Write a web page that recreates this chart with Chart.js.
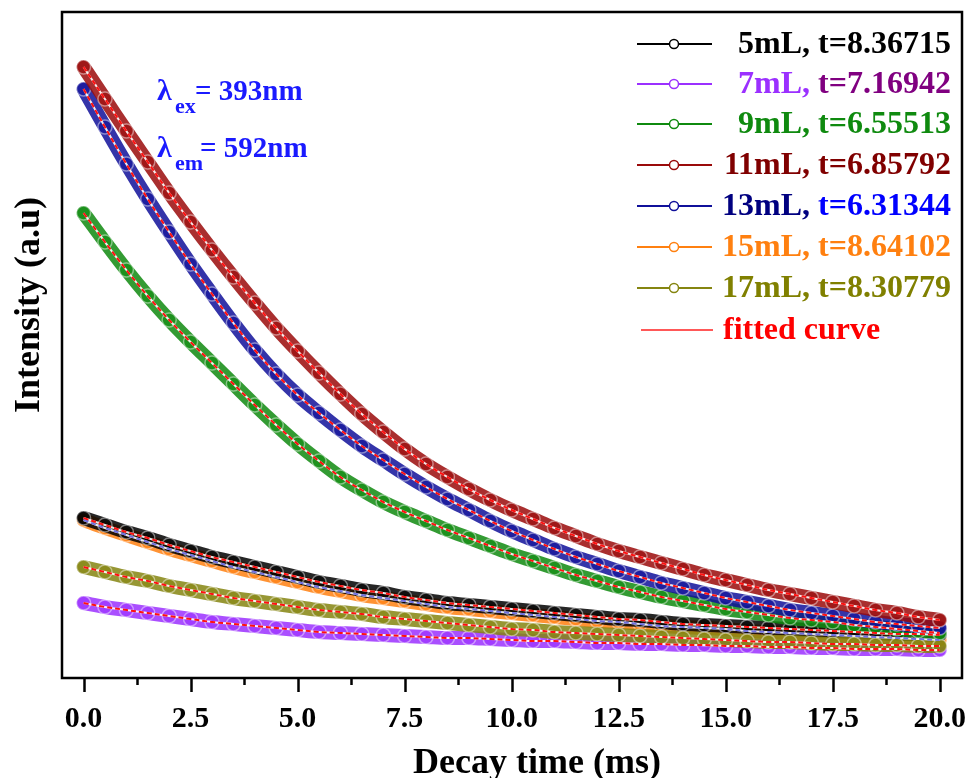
<!DOCTYPE html>
<html>
<head>
<meta charset="utf-8">
<script src="https://cdn.jsdelivr.net/npm/chart.js@4.4.1/dist/chart.umd.min.js"></script>
<style>
html,body{margin:0;padding:0;background:#fff;}
canvas{display:block;}
</style>
</head>
<body>
<canvas id="c" width="971" height="778"></canvas>
<script>
// Decay time (ms), every 0.5 ms
const times = [0,0.5,1,1.5,2,2.5,3,3.5,4,4.5,5,5.5,6,6.5,7,7.5,8,8.5,9,9.5,10,10.5,11,11.5,12,12.5,13,13.5,14,14.5,15,15.5,16,16.5,17,17.5,18,18.5,19,19.5,20];
// Intensity (a.u.)
const s5mL  = [160,153,146,140,133,127,121,116,111,106,101,96,92,88,85,81,78,75,73,71,69,67,65,63,61,59,58,56,54,53,52,51,50,49,48,47,46,45,44,44,43];
const s7mL  = [75,71,68,65,62,59,56,54,52,50,48,46,45,44,43,42,41,40,40,39,38,37,37,36,35,35,34,34,33,33,32,32,31,31,30,30,29,29,29,28,28];
const s9mL  = [465,436,408,382,358,336,315,294,273,253,234,217,201,188,176,166,157,148,140,132,124,117,110,103,97,91,86,81,77,73,69,66,63,60,58,56,53,51,49,47,45];
const s11mL = [611,579,547,516,485,456,428,401,375,350,327,305,284,264,246,229,214,201,189,178,168,159,150,142,134,127,121,115,109,103,98,93,88,84,80,76,72,68,65,61,58];
const s13mL = [589,551,514,479,446,414,384,355,328,304,283,265,248,232,218,204,191,179,168,157,147,138,129,121,114,107,101,95,90,85,80,76,72,68,65,62,59,56,54,52,50];
const s15mL = [158,150,143,136,129,123,117,111,106,101,96,91,87,83,80,77,74,71,69,67,65,63,61,59,57,56,54,52,51,50,49,47,46,45,44,43,42,41,40,39,38];
const s17mL = [111,106,101,97,92,88,84,80,77,74,71,68,66,64,61,59,57,55,53,51,49,48,46,45,44,43,42,41,40,39,38,37,36,36,35,34,34,33,33,32,32];

const seriesNames = ['5mL','7mL','9mL','11mL','13mL','15mL','17mL'];
const lifetimes = ['8.36715','7.16942','6.55513','6.85792','6.31344','8.64102','8.30779'];
const seriesData = [s5mL,s7mL,s9mL,s11mL,s13mL,s15mL,s17mL];
const xTicks = ['0.0','2.5','5.0','7.5','10.0','12.5','15.0','17.5','20.0'];

const colors = ['#000000','#9b30ff','#0f8a0f','#9a0a0a','#10109a','#ff8010','#858510'];
const fitColors = ['#ff1010','#ff1010','#ff1010','#ff1010','#ff1010','#6f6fe0','#ff1010'];

function pts(arr){ return times.map((t,i)=>({x:t,y:arr[i]})); }
function rgba(hex,a){
  const n=parseInt(hex.slice(1),16);
  return 'rgba('+((n>>16)&255)+','+((n>>8)&255)+','+(n&255)+','+a+')';
}

const datasets=[];
const drawOrder=[1,5,0,6,2,4,3];
drawOrder.forEach((i,k)=>{
  datasets.push({
    data: pts(seriesData[i]),
    borderColor: rgba(colors[i],0.85),
    borderWidth: 14,
    borderCapStyle: 'round',
    borderJoinStyle: 'round',
    pointRadius: 7,
    pointBorderWidth: 1.5,
    pointBorderColor: 'rgba(255,255,255,0.45)',
    pointBackgroundColor: rgba(colors[i],0.6),
    tension: 0.35,
    order: 30-k
  });
});
drawOrder.forEach((i,k)=>{
  datasets.push({
    data: pts(seriesData[i]),
    borderColor: 'rgba(255,255,255,0.9)',
    borderWidth: 2,
    pointRadius: 0,
    tension: 0.35,
    order: 15-k
  });
  datasets.push({
    data: pts(seriesData[i]),
    borderColor: fitColors[i],
    borderWidth: 2,
    borderDash: [5,3],
    pointRadius: 0,
    tension: 0.35,
    order: 8-k
  });
});

const SERIF = '"Liberation Serif","Times New Roman",serif';

const decor = {
  id:'decor',
  afterDraw(chart){
    const ctx=chart.ctx, a=chart.chartArea, xs=chart.scales.x;
    ctx.save();
    // frame
    ctx.strokeStyle='#000'; ctx.lineWidth=2.5;
    ctx.strokeRect(a.left-1, a.top, a.right-a.left+1, a.bottom-a.top);
    // ticks
    ctx.lineWidth=2.5;
    for(let v=0; v<=20.001; v+=1.25){
      const x=Math.round(xs.getPixelForValue(v))+0.5;
      const major = Math.abs((v/2.5)-Math.round(v/2.5))<1e-6;
      ctx.beginPath(); ctx.moveTo(x,a.bottom); ctx.lineTo(x,a.bottom+(major?14:7)); ctx.stroke();
    }
    // tick labels
    ctx.fillStyle='#000'; ctx.font='bold 30px '+SERIF; ctx.textAlign='center'; ctx.textBaseline='alphabetic';
    xTicks.forEach(l=>{ ctx.fillText(l, xs.getPixelForValue(parseFloat(l)), 727); });
    // axis titles
    ctx.font='bold 36px '+SERIF;
    ctx.fillText('Decay time (ms)', 537, 773);
    ctx.save(); ctx.translate(39,305); ctx.rotate(-Math.PI/2);
    ctx.fillText('Intensity (a.u)', 0, 0); ctx.restore();
    // annotation
    ctx.fillStyle='#1a1aff'; ctx.textAlign='left';
    ctx.font='bold 30px '+SERIF;
    ctx.fillText('\u03BB',157,100); ctx.fillText('\u03BB',157,157);
    ctx.font='bold 22px '+SERIF;
    ctx.fillText('ex',175,113); ctx.fillText('em',175,170);
    ctx.font='bold 29px '+SERIF;
    ctx.fillText('= 393nm',195,100); ctx.fillText('= 592nm',200,157);
    // legend
    const rowY=[44,84,124,165,206,247,288,330];
    const textCol=[['#000','#000'],['#9b30ff','#800080'],['#0f8a0f','#0f8a0f'],['#800000','#800000'],['#000080','#0000ff'],['#ff8010','#ff8010'],['#808000','#808000']];
    ctx.font='bold 32px '+SERIF;
    for(let i=0;i<7;i++){
      const y=rowY[i];
      ctx.strokeStyle=colors[i]; ctx.lineWidth=2.2;
      ctx.beginPath(); ctx.moveTo(637,y); ctx.lineTo(712,y); ctx.stroke();
      ctx.fillStyle='#fff'; ctx.beginPath(); ctx.arc(674,y,4.5,0,Math.PI*2); ctx.fill(); ctx.lineWidth=1.5; ctx.stroke();
      const p2='t='+lifetimes[i];
      const p1=seriesNames[i]+', ';
      ctx.textAlign='right'; ctx.textBaseline='middle';
      ctx.fillStyle=textCol[i][1]; ctx.fillText(p2,951,y+1);
      const w2=ctx.measureText(p2).width;
      ctx.fillStyle=textCol[i][0]; ctx.fillText(p1,951-w2,y+1);
    }
    const fy=rowY[7];
    ctx.strokeStyle='#ff2020'; ctx.lineWidth=1.5;
    ctx.beginPath(); ctx.moveTo(641,fy); ctx.lineTo(713,fy); ctx.stroke();
    ctx.textAlign='left'; ctx.fillStyle='#ff0000';
    ctx.fillText('fitted curve',723,fy+1);
    ctx.restore();
  }
};

new Chart(document.getElementById('c'),{
  type:'line',
  data:{datasets},
  options:{
    responsive:false,
    animation:false,
    devicePixelRatio:1,
    layout:{padding:{left:63,top:12,right:9,bottom:100}},
    plugins:{legend:{display:false},tooltip:{enabled:false}},
    scales:{
      x:{type:'linear',min:-0.48,max:20.52,display:false},
      y:{min:0,max:666,display:false}
    }
  },
  plugins:[decor]
});
</script>
</body>
</html>
